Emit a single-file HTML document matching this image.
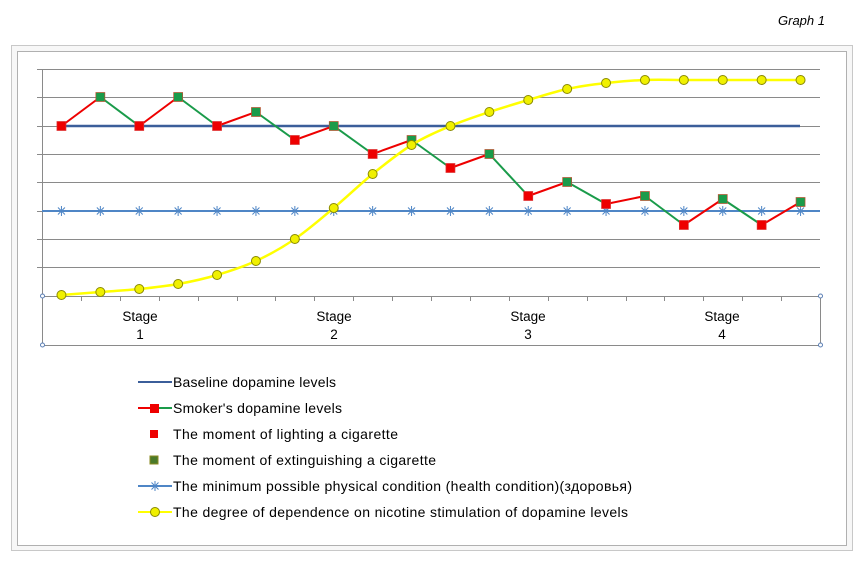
<!DOCTYPE html>
<html><head><meta charset="utf-8"><style>
html,body{margin:0;padding:0;background:#fff;}
svg{display:block;font-family:"Liberation Sans","DejaVu Sans",sans-serif;}
</style></head><body>
<svg width="863" height="570" viewBox="0 0 863 570" xmlns="http://www.w3.org/2000/svg">
<rect x="0" y="0" width="863" height="570" fill="#fff"/>
<text x="825" y="25" font-size="13" font-style="italic" text-anchor="end" fill="#000">Graph 1</text>
<rect x="11.5" y="45.5" width="841" height="505" fill="#f7f7f7" stroke="#c8c8c8"/>
<rect x="17.5" y="51.5" width="829" height="494" fill="#fff" stroke="#b0b0b0"/>
<g stroke="#8a8a8a" stroke-width="1">
<line x1="42" y1="69.5" x2="820" y2="69.5"/>
<line x1="42" y1="97.5" x2="820" y2="97.5"/>
<line x1="42" y1="126.5" x2="820" y2="126.5"/>
<line x1="42" y1="154.5" x2="820" y2="154.5"/>
<line x1="42" y1="182.5" x2="820" y2="182.5"/>
<line x1="42" y1="211.5" x2="820" y2="211.5"/>
<line x1="42" y1="239.5" x2="820" y2="239.5"/>
<line x1="42" y1="267.5" x2="820" y2="267.5"/>
<line x1="42.5" y1="69" x2="42.5" y2="345"/>
<line x1="42" y1="296.5" x2="820" y2="296.5"/>
<line x1="42" y1="345.5" x2="820" y2="345.5"/>
<line x1="820.5" y1="296" x2="820.5" y2="345"/>
<line x1="37" y1="69.5" x2="42" y2="69.5"/><line x1="37" y1="97.5" x2="42" y2="97.5"/><line x1="37" y1="126.5" x2="42" y2="126.5"/><line x1="37" y1="154.5" x2="42" y2="154.5"/><line x1="37" y1="182.5" x2="42" y2="182.5"/><line x1="37" y1="211.5" x2="42" y2="211.5"/><line x1="37" y1="239.5" x2="42" y2="239.5"/><line x1="37" y1="267.5" x2="42" y2="267.5"/>
</g>
<g id="ticks" stroke="#8a8a8a"></g>
<circle cx="42.5" cy="296" r="2" fill="#fff" stroke="#5b7fb5"/>
<circle cx="42.5" cy="345" r="2" fill="#fff" stroke="#5b7fb5"/>
<circle cx="820.5" cy="296" r="2" fill="#fff" stroke="#5b7fb5"/>
<circle cx="820.5" cy="345" r="2" fill="#fff" stroke="#5b7fb5"/>
<g font-size="13.5" text-anchor="middle" fill="#000">
<text x="140" y="321">Stage</text><text x="140" y="339">1</text>
<text x="334" y="321">Stage</text><text x="334" y="339">2</text>
<text x="528" y="321">Stage</text><text x="528" y="339">3</text>
<text x="722" y="321">Stage</text><text x="722" y="339">4</text>
</g>
<line x1="62" y1="126" x2="800" y2="126" stroke="#3b5e9a" stroke-width="2.5"/>
<line x1="42" y1="211" x2="820" y2="211" stroke="#4f86c6" stroke-width="2"/>
<g id="stars" stroke="#4f86c6" stroke-width="1"></g>
<g id="smoker"></g>
<g id="yel"></g>
<g font-size="14" fill="#000">
<line x1="138" y1="382" x2="172" y2="382" stroke="#3b5e9a" stroke-width="2"/>
<text x="173" y="387" textLength="163">Baseline dopamine levels</text>
<line x1="138" y1="408" x2="155" y2="408" stroke="#e00" stroke-width="2"/>
<line x1="155" y1="408" x2="172" y2="408" stroke="#1a9b4a" stroke-width="2"/>
<rect x="150" y="404" width="9" height="9" fill="#e00"/>
<text x="173" y="413" textLength="169">Smoker's dopamine levels</text>
<rect x="150" y="430" width="8" height="8" fill="#e00"/>
<text x="173" y="439" textLength="225">The moment of lighting a cigarette</text>
<rect x="150" y="456" width="8" height="8" fill="#4a7a2a" stroke="#8a8a20"/>
<text x="173" y="465" textLength="263">The moment of extinguishing a cigarette</text>
<line x1="138" y1="486" x2="172" y2="486" stroke="#4f86c6" stroke-width="2"/>
<path d="M150 486h10M155 481v10M151.5 482.5l7 7M158.5 482.5l-7 7" stroke="#4f86c6"/>
<text x="173" y="491" textLength="459">The minimum  possible physical condition (health condition)(здоровья)</text>
<line x1="138" y1="512" x2="172" y2="512" stroke="#ffff00" stroke-width="2"/>
<circle cx="155" cy="512" r="4.5" fill="#f0f000" stroke="#8a8a00"/>
<text x="173" y="517" textLength="455">The degree of dependence on nicotine stimulation of dopamine levels</text>
</g>
</svg>
<script>
var NS="http://www.w3.org/2000/svg";
function el(p,t,a){var e=document.createElementNS(NS,t);for(var k in a)e.setAttribute(k,a[k]);document.getElementById(p).appendChild(e);return e;}
var step=38.9;
for(var i=0;i<=20;i++){var x=Math.round(42+i*step)+0.5;el("ticks","line",{x1:x,y1:296,x2:x,y2:301});}
var xs=[];for(var i=0;i<20;i++)xs.push(42+step*(i+0.5));
xs.forEach(function(x){el("stars","path",{d:"M"+(x-5)+" 211h10M"+x+" 206v10M"+(x-3.5)+" 207.5l7 7M"+(x+3.5)+" 207.5l-7 7"});});
var s=[126,97,126,97,126,112,140,126,154,140,168,154,196,182,204,196,225,199,225,202];
for(var i=0;i<19;i++){el("smoker","line",{x1:xs[i],y1:s[i],x2:xs[i+1],y2:s[i+1],stroke:(i%2==0?"#e00":"#1a9b4a"),"stroke-width":2});}
for(var i=0;i<20;i++){el("smoker","rect",{x:xs[i]-4.5,y:s[i]-4.5,width:9,height:9,fill:(i%2==0?"#e00":"#1a9b4a"),stroke:(i%2==0?"#d33":"#c05030"),"stroke-width":0.7});}
var y=[295,292,289,284,275,261,239,208,174,145,126,112,100,89,83,80,80,80,80,80];
var d="M"+xs[0]+" "+y[0];
for(var i=0;i<19;i++){var x0=xs[i-1<0?0:i-1],y0=y[i-1<0?0:i-1],x1=xs[i],y1=y[i],x2=xs[i+1],y2=y[i+1],x3=xs[i+2>19?19:i+2],y3=y[i+2>19?19:i+2];
d+=" C"+(x1+(x2-x0)/6)+" "+(y1+(y2-y0)/6)+" "+(x2-(x3-x1)/6)+" "+(y2-(y3-y1)/6)+" "+x2+" "+y2;}
el("yel","path",{d:d,fill:"none",stroke:"#ffff00","stroke-width":2.5});
for(var i=0;i<20;i++)el("yel","circle",{cx:xs[i],cy:y[i],r:4.5,fill:"#f0f000",stroke:"#8a8a00","stroke-width":1});
</script>
</body></html>
